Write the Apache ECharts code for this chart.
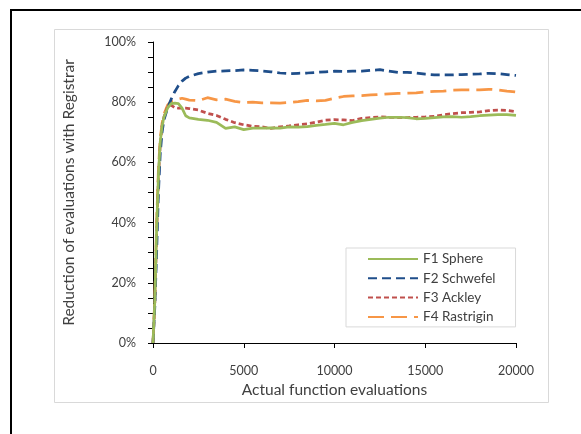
<!DOCTYPE html>
<html>
<head>
<meta charset="utf-8">
<script src="https://cdn.jsdelivr.net/npm/echarts@6/dist/echarts.min.js"></script>
<style>
  html, body { margin: 0; padding: 0; background: #fff; }
  #chart { width: 581px; height: 434px; }
</style>
</head>
<body>
<div id="chart"></div>
<script>
// Function evaluations at which each run was sampled
const evaluations = [0, 100, 200, 300, 400, 500, 600, 800, 1000, 1200, 1400, 1600, 1800, 2000,
  2500, 3000, 3500, 4000, 4500, 5000, 5500, 6000, 6500, 7000, 7500, 8000, 8500, 9000, 9500,
  10000, 10500, 11000, 11500, 12000, 12500, 13000, 13500, 14000, 14500, 15000, 15500, 16000,
  16500, 17000, 17500, 18000, 18500, 19000, 19500, 20000];

// Reduction of evaluations with the registrar, in percent
const sphere = [0, 14, 38, 56, 67, 72, 75, 78, 79.5, 79.7, 79.5, 78, 75.5, 74.8,
  74.3, 74, 73.3, 71.3, 71.8, 70.9, 71.4, 71.4, 71.5, 71.4, 71.8, 71.7, 71.9, 72.3, 72.6,
  73, 72.5, 73.3, 73.9, 74.3, 74.7, 75, 75, 74.9, 74.5, 74.6, 74.9, 75.1,
  75.2, 75, 75.2, 75.5, 75.7, 75.9, 75.9, 75.6];

const schwefel = [0, 12, 30, 50, 63, 70, 74, 78, 81, 83.5, 85.5, 87, 88, 88.6,
  89.5, 90, 90.3, 90.4, 90.5, 90.7, 90.6, 90.4, 90.1, 89.7, 89.5, 89.6, 89.7, 89.9, 90.1,
  90.3, 90.2, 90.3, 90.3, 90.6, 90.8, 90.3, 89.9, 89.9, 89.7, 89.3, 89.1, 89.1,
  89.1, 89.2, 89.3, 89.4, 89.6, 89.5, 89.2, 88.9];

const ackley = [0, 13, 36, 55, 66, 72, 75, 78.5, 79, 78.2, 78, 78, 78, 77.9,
  77.4, 76.3, 75.6, 74.3, 73.2, 72.5, 72, 71.8, 71.3, 71.8, 72.1, 72.5, 72.8, 73.4, 74,
  74.2, 74.1, 73.9, 74.6, 74.9, 75.1, 75, 74.9, 74.9, 75, 75.1, 75.3, 75.8,
  76.2, 76.5, 76.6, 76.8, 77.2, 77.4, 77.3, 76.8];

const rastrigin = [0, 15, 40, 58, 68, 73, 76, 79, 80.3, 80.6, 81, 81.3, 81, 80.7,
  80.5, 81.5, 80.8, 81, 80.3, 79.9, 80, 79.8, 79.8, 79.7, 79.9, 80.2, 80.6, 80.4, 80.6,
  81.3, 81.9, 82.1, 82.2, 82.4, 82.6, 82.8, 82.9, 83, 83.1, 83.4, 83.6, 83.7,
  84, 84.1, 84.1, 84.1, 84.3, 84.1, 83.7, 83.4];

const seriesNames = ['F1 Sphere', 'F2 Schwefel', 'F3 Ackley', 'F4 Rastrigin'];
const xTicks = [0, 5000, 10000, 15000, 20000];
const yLabelTicks = [0, 20, 40, 60, 80, 100];

const pairs = (ys) => evaluations.map((x, i) => [x, ys[i]]);
const textColor = '#404040';
const fontFamily = 'Lato, "Open Sans", sans-serif';

const styles = [
  { color: '#9BBB59', type: 'solid' },
  { color: '#1F4E8A', type: [9, 5] },
  { color: '#C0504D', type: [5, 3] },
  { color: '#F79646', type: [16, 7] }
];

const chart = echarts.init(document.getElementById('chart'), null, { renderer: 'canvas' });

chart.setOption({
  animation: false,
  backgroundColor: '#fff',
  textStyle: { fontFamily: fontFamily, color: textColor },
  graphic: [
    { type: 'rect', z: -10, shape: { x: 11, y: 10, width: 600, height: 460 },
      style: { fill: 'none', stroke: '#000', lineWidth: 2 } },
    { type: 'rect', z: -10, shape: { x: 54.5, y: 29.5, width: 494, height: 373 },
      style: { fill: '#fff', stroke: '#d9d9d9', lineWidth: 1 } }
  ],
  grid: { left: 153, top: 42, right: 65, bottom: 91, containLabel: false },
  legend: {
    orient: 'vertical',
    left: 346,
    top: 248,
    padding: [4, 20, 3, 21],
    itemWidth: 50,
    itemHeight: 14,
    itemGap: 5.3,
    backgroundColor: '#fff',
    borderColor: '#d9d9d9',
    borderWidth: 1,
    borderRadius: 0,
    itemStyle: { color: 'transparent', borderWidth: 0, opacity: 0 },
    textStyle: { fontFamily: fontFamily, fontSize: 13.5, color: textColor },
    data: seriesNames
  },
  xAxis: {
    type: 'value',
    min: xTicks[0],
    max: xTicks[xTicks.length - 1],
    interval: xTicks[1] - xTicks[0],
    name: 'Actual function evaluations',
    nameLocation: 'middle',
    nameGap: 39,
    nameTextStyle: { fontFamily: fontFamily, fontSize: 15.5, color: textColor },
    axisLine: { lineStyle: { color: '#000', width: 1 } },
    axisTick: { show: true, length: 5, lineStyle: { color: '#000' } },
    axisLabel: {
      fontFamily: fontFamily, fontSize: 12.5, color: textColor, margin: 21,
      formatter: (v) => String(v)
    },
    splitLine: { show: false }
  },
  yAxis: {
    type: 'value',
    min: 0,
    max: 100,
    interval: 5,
    name: 'Reduction of evaluations with Registrar',
    nameLocation: 'middle',
    nameGap: 76,
    nameTextStyle: { fontFamily: fontFamily, fontSize: 15.5, color: textColor },
    axisLine: { show: true, lineStyle: { color: '#000', width: 1 } },
    axisTick: { show: true, length: 5, lineStyle: { color: '#000' } },
    axisLabel: {
      fontFamily: fontFamily, fontSize: 12.5, color: textColor, margin: 17,
      formatter: (v) => yLabelTicks.indexOf(Math.round(v)) >= 0 ? Math.round(v) + '%' : ''
    },
    splitLine: { show: false }
  },
  series: [sphere, schwefel, ackley, rastrigin].map((ys, i) => ({
    name: seriesNames[i],
    type: 'line',
    data: pairs(ys),
    showSymbol: false,
    symbol: 'none',
    smooth: false,
    lineStyle: { color: styles[i].color, width: 2.75, type: styles[i].type, cap: 'butt' },
    itemStyle: { color: styles[i].color },
    z: 10 - i
  }))
});
</script>
</body>
</html>
